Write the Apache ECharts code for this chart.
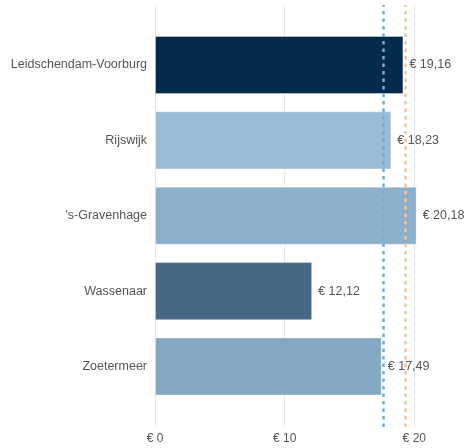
<!DOCTYPE html>
<html><head><meta charset="utf-8">
<script src="https://cdn.jsdelivr.net/npm/echarts@6/dist/echarts.min.js"></script>
<style>html,body{margin:0;padding:0;background:#fff}#c{width:467px;height:448px}</style>
</head><body><div id="c"></div>
<script>
const categories = ["Leidschendam-Voorburg", "Rijswijk", "'s-Gravenhage", "Wassenaar", "Zoetermeer"];
const values = [19.16, 18.23, 20.18, 12.12, 17.49];
const barColors = ["#032a4b", "#9bbcd6", "#8cb0ca", "#476884", "#84a7c2"];
const refBlue = 17.6;
const refOrange = 19.3;
const xTicks = [0, 10, 20];

const chart = echarts.init(document.getElementById('c'));
const fmt = v => '€ ' + String(v.toFixed(2)).replace('.', ',');
chart.setOption({
  animation: false,
  textStyle: { fontFamily: 'Liberation Sans, Arial, sans-serif' },
  grid: [
    { left: 155, right: 52.7, top: 27.3, bottom: 448 - 404.2 },
    { left: 155, right: 52.7, top: 5, bottom: 448 - 427 }
  ],
  xAxis: [
    { gridIndex: 0, type: 'value', min: xTicks[0], max: xTicks[xTicks.length - 1], interval: 10,
      axisLine: { show: false }, axisTick: { show: false }, axisLabel: { show: false }, splitLine: { show: false } },
    { gridIndex: 1, type: 'value', min: xTicks[0], max: xTicks[xTicks.length - 1], interval: 10,
      axisLine: { show: false }, axisTick: { show: false },
      axisLabel: { color: '#555', fontSize: 12, margin: 6, formatter: v => '€ ' + v },
      splitLine: { show: true, lineStyle: { color: '#e6e6e6', width: 1 } } }
  ],
  yAxis: [
    { gridIndex: 0, type: 'category', data: categories, inverse: true,
      axisLine: { show: false }, axisTick: { show: false },
      axisLabel: { color: '#555', fontSize: 12.5, margin: 8 } },
    { gridIndex: 1, type: 'value', min: 0, max: 1, show: false }
  ],
  series: [{
    type: 'bar', xAxisIndex: 0, yAxisIndex: 0, clip: false,
    barWidth: '77%',
    data: values.map((v, i) => ({ value: v, itemStyle: { color: barColors[i] } })),
    itemStyle: { borderColor: 'rgba(255,255,255,0.35)', borderWidth: 1 },
    label: { show: true, position: 'right', distance: 6, color: '#555', fontSize: 12.5, formatter: p => fmt(p.value) },
    z: 2
  }, {
    type: 'scatter', xAxisIndex: 1, yAxisIndex: 1, data: [], z: 5,
    markLine: {
      symbol: 'none', silent: true, label: { show: false }, z: 5,
      data: [
        { xAxis: refBlue, lineStyle: { color: '#74aadc', type: [3.5, 4], width: 2.5, opacity: 1 } },
        { xAxis: refOrange, lineStyle: { color: '#f8c29e', type: [3.5, 4], width: 2.5, opacity: 1 } }
      ]
    }
  }]
});
</script></body></html>
